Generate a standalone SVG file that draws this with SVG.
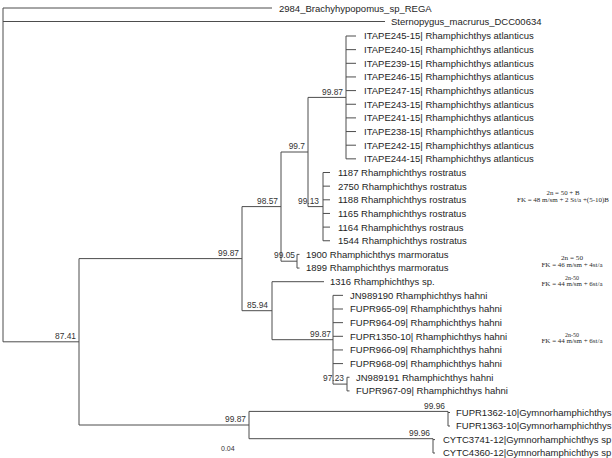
<svg xmlns="http://www.w3.org/2000/svg" width="612" height="458" viewBox="0 0 612 458">
<style>
.br{fill:none;stroke:#4d4d4d;stroke-width:1}
.tip{font-family:"Liberation Sans",Arial,sans-serif;font-size:9.5px;fill:#1e1e1e}
.bs{font-family:"Liberation Sans",Arial,sans-serif;font-size:8.4px;fill:#333;text-anchor:end}
.kar{font-family:"Liberation Serif","Times New Roman",serif;font-size:6px;fill:#2a2a2a;text-anchor:middle}
.sc{font-family:"Liberation Sans",Arial,sans-serif;font-size:7px;fill:#333}
</style>
<rect width="612" height="458" fill="#fff"/>
<g id="connectors">
<path class="br" d="M3,8V341.8M3,8H272M3,21.5H385M3,341.8H79"/>
<path class="br" d="M79,258.6V425M79,258.6H242M79,425H249"/>
<path class="br" d="M242,206.6V310.7M242,206.6H281M242,310.7H272"/>
<path class="br" d="M281,152V261.2M281,152H308M281,261.2H297"/>
<path class="br" d="M308,97.4V206.6M308,97.4H346M308,206.6H323"/>
<path class="br" d="M346,36V158.85M346,36H356M346,49.65H356M346,63.3H356M346,76.95H356M346,90.6H356M346,104.25H356M346,117.9H356M346,131.55H356M346,145.2H356M346,158.85H356"/>
<path class="br" d="M323,172.5V240.75M323,172.5H330M323,186.15H330M323,199.8H330M323,213.45H330M323,227.1H330M323,240.75H330"/>
<path class="br" d="M297,254.4V268.05M297,254.4H299.5M297,268.05H299.5"/>
<path class="br" d="M272,281.7V339.7M272,281.7H324M272,339.7H333"/>
<path class="br" d="M333,295.35V384.1M333,295.35H343M333,309H343M333,322.65H343M333,336.3H343M333,349.95H343M333,363.6H343M333,384.1H347"/>
<path class="br" d="M347,377.25V390.9M347,377.25H349.5M347,390.9H349.5"/>
<path class="br" d="M249,411.4V438.7M249,411.4H448M249,438.7H433"/>
<path class="br" d="M448,411.4V426M448,412.5H450M448,426H450"/>
<path class="br" d="M433,438.7V453M433,439.6H435M433,453H435"/>
</g>
<g id="tips">
<g id="t_2984"><text class="tip" x="279" y="11.5">2984_Brachyhypopomus_sp_REGA</text></g>
<g id="t_stern"><text class="tip" x="391" y="25">Sternopygus_macrurus_DCC00634</text></g>
<g id="t_ITAPE245"><text class="tip" x="364" y="39.4">ITAPE245-15| Rhamphichthys atlanticus</text></g>
<g id="t_ITAPE240"><text class="tip" x="364" y="53.05">ITAPE240-15| Rhamphichthys atlanticus</text></g>
<g id="t_ITAPE239"><text class="tip" x="364" y="66.7">ITAPE239-15| Rhamphichthys atlanticus</text></g>
<g id="t_ITAPE246"><text class="tip" x="364" y="80.35">ITAPE246-15| Rhamphichthys atlanticus</text></g>
<g id="t_ITAPE247"><text class="tip" x="364" y="94">ITAPE247-15| Rhamphichthys atlanticus</text></g>
<g id="t_ITAPE243"><text class="tip" x="364" y="107.65">ITAPE243-15| Rhamphichthys atlanticus</text></g>
<g id="t_ITAPE241"><text class="tip" x="364" y="121.3">ITAPE241-15| Rhamphichthys atlanticus</text></g>
<g id="t_ITAPE238"><text class="tip" x="364" y="134.95">ITAPE238-15| Rhamphichthys atlanticus</text></g>
<g id="t_ITAPE242"><text class="tip" x="364" y="148.6">ITAPE242-15| Rhamphichthys atlanticus</text></g>
<g id="t_ITAPE244"><text class="tip" x="364" y="162.25">ITAPE244-15| Rhamphichthys atlanticus</text></g>
<g id="t_1187"><text class="tip" x="338" y="175.9">1187 Rhamphichthys rostratus</text></g>
<g id="t_2750"><text class="tip" x="338" y="189.55">2750 Rhamphichthys rostratus</text></g>
<g id="t_1188"><text class="tip" x="338" y="203.2">1188 Rhamphichthys rostratus</text></g>
<g id="t_1165"><text class="tip" x="338" y="216.85">1165 Rhamphichthys rostratus</text></g>
<g id="t_1164"><text class="tip" x="338" y="230.5">1164 Rhamphichthys rostraus</text></g>
<g id="t_1544"><text class="tip" x="338" y="244.15">1544 Rhamphichthys rostratus</text></g>
<g id="t_1900"><text class="tip" x="306" y="257.8">1900 Rhamphichthys marmoratus</text></g>
<g id="t_1899"><text class="tip" x="306" y="271.45">1899 Rhamphichthys marmoratus</text></g>
<g id="t_1316"><text class="tip" x="330" y="285.1">1316 Rhamphichthys sp.</text></g>
<g id="t_JN989190"><text class="tip" x="350" y="298.75">JN989190 Rhamphichthys hahni</text></g>
<g id="t_FUPR965"><text class="tip" x="350" y="312.4">FUPR965-09| Rhamphichthys hahni</text></g>
<g id="t_FUPR964"><text class="tip" x="350" y="326.05">FUPR964-09| Rhamphichthys hahni</text></g>
<g id="t_FUPR1350"><text class="tip" x="350" y="339.7">FUPR1350-10| Rhamphichthys hahni</text></g>
<g id="t_FUPR966"><text class="tip" x="350" y="353.35">FUPR966-09| Rhamphichthys hahni</text></g>
<g id="t_FUPR968"><text class="tip" x="350" y="367">FUPR968-09| Rhamphichthys hahni</text></g>
<g id="t_JN989191"><text class="tip" x="356" y="380.65">JN989191 Rhamphichthys hahni</text></g>
<g id="t_FUPR967"><text class="tip" x="356" y="394.3">FUPR967-09| Rhamphichthys hahni</text></g>
<g id="t_FUPR1362"><text class="tip" x="456" y="415.9">FUPR1362-10|Gymnorhamphichthys</text></g>
<g id="t_FUPR1363"><text class="tip" x="456" y="429.4">FUPR1363-10|Gymnorhamphichthys</text></g>
<g id="t_CYTC3741"><text class="tip" x="443" y="443">CYTC3741-12|Gymnorhamphichthys sp</text></g>
<g id="t_CYTC4360"><text class="tip" x="443" y="456.4">CYTC4360-12|Gymnorhamphichthys sp</text></g>
</g>
<g id="support">
<g id="n_8741"><text class="bs" x="76" y="339">87.41</text></g>
<g id="n_9987a"><text class="bs" x="239" y="255.8">99.87</text></g>
<g id="n_9857"><text class="bs" x="278" y="203.8">98.57</text></g>
<g id="n_997"><text class="bs" x="305" y="149.2">99.7</text></g>
<g id="n_9987b"><text class="bs" x="343" y="94.6">99.87</text></g>
<g id="n_9913"><text class="bs" x="319" y="203.8">99.13</text></g>
<g id="n_9905"><text class="bs" x="295" y="258.4">99.05</text></g>
<g id="n_8594"><text class="bs" x="268" y="307.9">85.94</text></g>
<g id="n_9987c"><text class="bs" x="331" y="336.9">99.87</text></g>
<g id="n_9723"><text class="bs" x="344" y="381.3">97.23</text></g>
<g id="n_9987d"><text class="bs" x="246" y="422.2">99.87</text></g>
<g id="n_9996a"><text class="bs" x="445" y="409">99.96</text></g>
<g id="n_9996b"><text class="bs" x="430" y="435.9">99.96</text></g>
</g>
<g id="karyotypes">
<text class="kar" x="563" y="194.5" textLength="33" lengthAdjust="spacingAndGlyphs">2n = 50 + B</text>
<text class="kar" x="563" y="202" textLength="92" lengthAdjust="spacingAndGlyphs">FK = 48 m/sm + 2 St/a +(5-10)B</text>
<text class="kar" x="572" y="260" textLength="22" lengthAdjust="spacingAndGlyphs">2n = 50</text>
<text class="kar" x="572" y="266.8" textLength="61" lengthAdjust="spacingAndGlyphs">FK = 46 m/sm + 4st/a</text>
<text class="kar" x="572" y="279.5" textLength="14" lengthAdjust="spacingAndGlyphs">2n-50</text>
<text class="kar" x="572" y="286.3" textLength="61" lengthAdjust="spacingAndGlyphs">FK = 44 m/sm + 6st/a</text>
<text class="kar" x="572" y="336.5" textLength="14" lengthAdjust="spacingAndGlyphs">2n-50</text>
<text class="kar" x="572" y="343.3" textLength="61" lengthAdjust="spacingAndGlyphs">FK = 44 m/sm + 6st/a</text>
</g>
<g id="scale"><text class="sc" x="221" y="451">0.04</text></g>
</svg>
